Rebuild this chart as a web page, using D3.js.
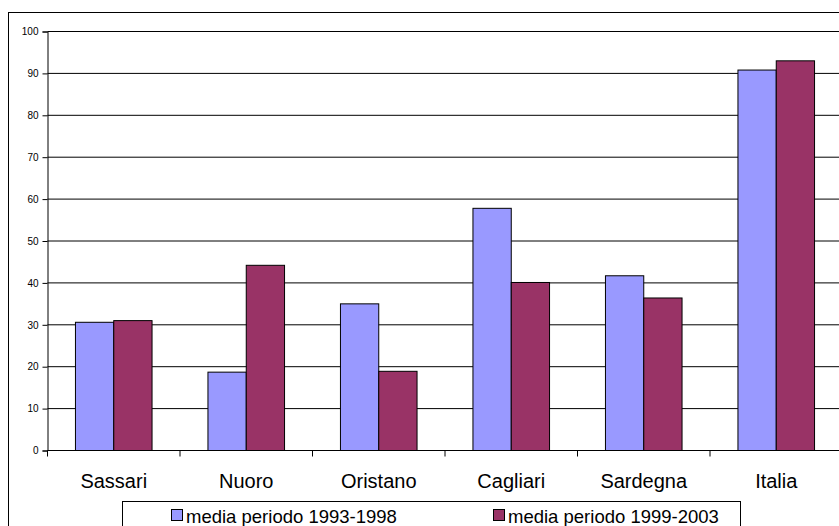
<!DOCTYPE html>
<html>
<head>
<meta charset="utf-8">
<script src="https://cdn.jsdelivr.net/npm/d3@7"></script>
<style>
  html, body { margin: 0; padding: 0; background: #fff; }
  svg { display: block; font-family: "Liberation Sans", Arial, sans-serif; }
</style>
</head>
<body>
<svg id="chart" width="839" height="526"></svg>
<script>
// Provinces / areas on the x axis
const categories = ["Sassari", "Nuoro", "Oristano", "Cagliari", "Sardegna", "Italia"];
// Series names as they appear in the legend
const seriesNames = ["media periodo 1993-1998", "media periodo 1999-2003"];
// Average values for each period
const values1993_1998 = [30.6, 18.7, 35.0, 57.8, 41.7, 90.8];
const values1999_2003 = [31.0, 44.2, 18.9, 40.1, 36.4, 93.0];
// Y axis ticks
const yTicks = [0, 10, 20, 30, 40, 50, 60, 70, 80, 90, 100];
const seriesColors = ["#9999FF", "#993366"];

const svg = d3.select("#chart");

// Outer chart frame
svg.append("rect")
  .attr("x", 8.5).attr("y", 12.5)
  .attr("width", 900).attr("height", 600)
  .attr("fill", "#fff").attr("stroke", "#000").attr("stroke-width", 1);

const plotLeft = 47.5, plotRight = 842.5, plotTop = 31.5, plotBottom = 450.5;

const x = d3.scaleBand().domain(categories).range([plotLeft, plotRight]).padding(0);
const xInner = d3.scaleBand().domain([0, 1]).range([0, x.bandwidth()])
  .paddingInner(0).paddingOuter(0.73);
const y = d3.scaleLinear().domain([0, 100]).range([plotBottom, plotTop]);

// Horizontal gridlines
svg.append("g").selectAll("line")
  .data(yTicks.filter(d => d > 0))
  .join("line")
  .attr("x1", plotLeft).attr("x2", plotRight)
  .attr("y1", d => y(d)).attr("y2", d => y(d))
  .attr("stroke", "#000").attr("stroke-width", 1);

// Bars
const rows = categories.map((c, i) => ({ c, v: [values1993_1998[i], values1999_2003[i]] }));
svg.append("g").selectAll("g")
  .data(rows)
  .join("g")
  .attr("transform", d => `translate(${x(d.c)},0)`)
  .selectAll("rect")
  .data(d => d.v.map((v, s) => ({ v, s })))
  .join("rect")
  .attr("x", d => xInner(d.s))
  .attr("width", xInner.bandwidth())
  .attr("y", d => y(d.v))
  .attr("height", d => y(0) - y(d.v))
  .attr("fill", d => seriesColors[d.s])
  .attr("stroke", "#000").attr("stroke-width", 1);

// Y axis
const yAxis = d3.axisLeft(y).tickValues(yTicks).tickSize(5).tickPadding(4).tickFormat(d3.format("d"));
const gy = svg.append("g").attr("transform", `translate(${plotLeft},0)`).call(yAxis);
gy.select(".domain").attr("stroke", "#000");
gy.selectAll(".tick line").attr("stroke", "#000");
gy.selectAll(".tick text").attr("font-size", "10px").attr("fill", "#000")
  .attr("font-family", "Liberation Sans, Arial, sans-serif");

// X axis: baseline and separators between categories
const gx = svg.append("g");
gx.append("line")
  .attr("x1", plotLeft).attr("x2", plotRight)
  .attr("y1", plotBottom).attr("y2", plotBottom)
  .attr("stroke", "#000");
gx.selectAll("line.sep")
  .data(categories)
  .join("line")
  .attr("class", "sep")
  .attr("x1", d => x(d)).attr("x2", d => x(d))
  .attr("y1", plotBottom).attr("y2", plotBottom + 6)
  .attr("stroke", "#000");
gx.selectAll("text")
  .data(categories)
  .join("text")
  .attr("x", d => x(d) + x.bandwidth() / 2)
  .attr("y", 488)
  .attr("text-anchor", "middle")
  .attr("font-size", "20px")
  .attr("fill", "#000")
  .text(d => d);

// Legend
const legend = svg.append("g");
legend.append("rect")
  .attr("x", 122.5).attr("y", 501.5)
  .attr("width", 618).attr("height", 60)
  .attr("fill", "#fff").attr("stroke", "#000");
const legendX = [171, 493];
const items = legend.selectAll("g.item")
  .data(seriesNames)
  .join("g")
  .attr("class", "item")
  .attr("transform", (d, i) => `translate(${legendX[i]},509)`);
items.append("rect")
  .attr("x", 0.5).attr("y", 0.5)
  .attr("width", 11).attr("height", 11)
  .attr("fill", (d, i) => seriesColors[i])
  .attr("stroke", "#000");
items.append("text")
  .attr("x", 15).attr("y", 14)
  .attr("font-size", "18.5px")
  .attr("fill", "#000")
  .text(d => d);
</script>
</body>
</html>
